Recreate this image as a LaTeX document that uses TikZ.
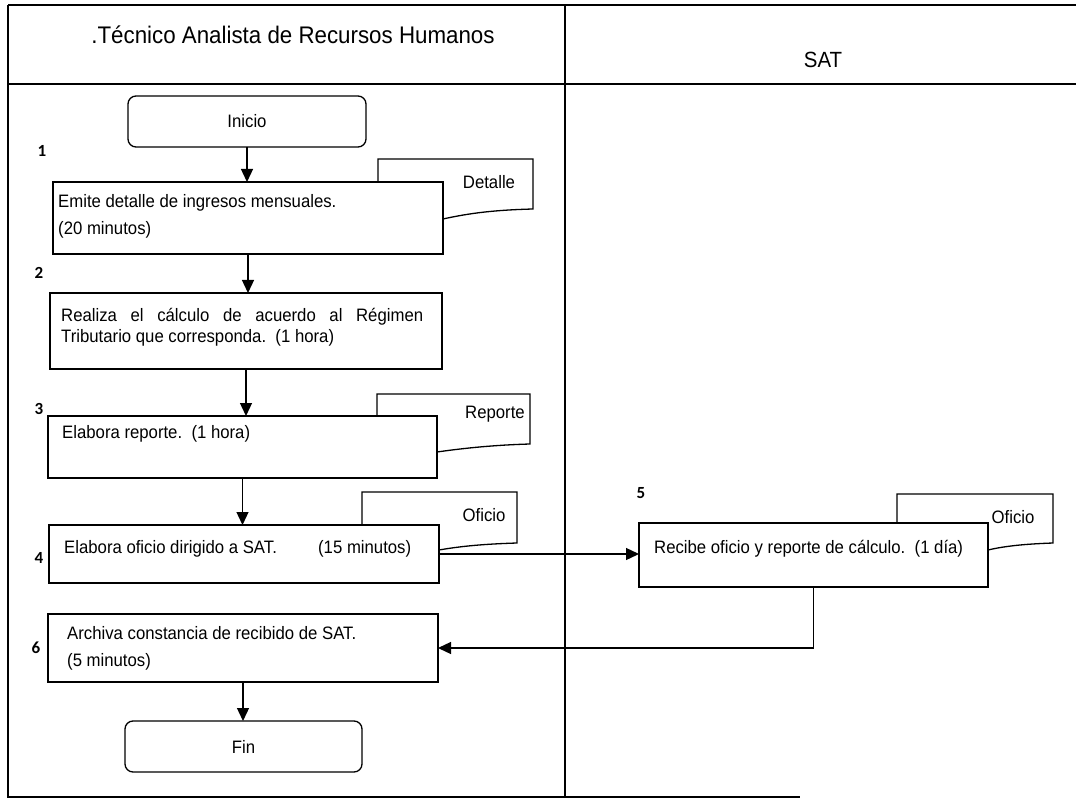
\documentclass[tikz,border=0pt]{standalone}
\usepackage{fontspec}
\setmainfont{Liberation Sans}[FakeStretch=0.93]
\newfontfamily\numfont{Carlito}
\usetikzlibrary{arrows.meta}
\begin{document}
\begin{tikzpicture}[x=1pt,y=-1pt,
  box/.style={draw, line width=1.3pt, fill=white, rectangle, inner sep=0pt, outer sep=0pt, anchor=north west},
  term/.style={box, rounded corners=8pt},
  txt/.style={anchor=west, inner sep=0pt, font=\fontsize{18}{21}\selectfont},
  doctxt/.style={inner sep=0pt, font=\fontsize{18}{21}\selectfont},
  num/.style={inner sep=0pt, font=\numfont\bfseries\fontsize{17}{20}\selectfont},
  arr/.style={line width=1.3pt, -{Triangle[length=13pt,width=12pt]}},
  frame/.style={line width=1.8pt},
  docsh/.style={draw, line width=1.3pt, fill=white}]
\useasboundingbox (0,0) rectangle (1076,802);
\fill[white] (0,0) rectangle (1076,802);
% frame
\draw[frame] (8,5) -- (1076,5);
\draw[frame] (8,84) -- (1076,84);
\draw[frame] (8,5) -- (8,797) -- (800,797);
\draw[frame] (565,5) -- (565,797);
\node[inner sep=0pt, font=\fontsize{24}{28}\selectfont] (h1) at (293,35) {.Técnico Analista de Recursos Humanos};
\node[inner sep=0pt, font=\fontsize{22}{26}\selectfont] (h2) at (823,60) {SAT};
% documents
\draw[docsh] (378,200) -- (378,159) -- (533,159) -- (533,209) .. controls (495,210) and (470,213) .. (443,219);
\node[doctxt] (d1) at (489,182) {Detalle};
\draw[docsh] (377,430) -- (377,394) -- (530,394) -- (530,444) .. controls (495,445) and (465,448) .. (437,452);
\node[doctxt] (d3) at (495,414) {Reporte};
\draw[docsh] (362,540) -- (362,492) -- (517,492) -- (517,543) .. controls (485,544) and (462,546) .. (439,550);
\node[doctxt] (d4) at (484,515) {Oficio};
\draw[docsh] (897,540) -- (897,494) -- (1053,494) -- (1053,543) .. controls (1025,544) and (1005,546) .. (988,550);
\node[doctxt] (d5) at (1013,517) {Oficio};
% boxes
\node[term, minimum width=238pt, minimum height=51pt] (ini) at (128,96) {};
\node[doctxt] (tini) at (ini.center) {Inicio};
\node[box, minimum width=390pt, minimum height=72pt] (b1) at (53,182) {};
\node[txt] (t1a) at (58,203) {Emite detalle de ingresos mensuales.};
\node[txt] (t1b) at (58,230) {(20 minutos)};
\node[box, minimum width=392pt, minimum height=76pt] (b2) at (50,293) {};
\node[txt] (t2a) at (61,317) {\makebox[362pt][s]{Realiza el cálculo de acuerdo al Régimen}};
\node[txt] (t2b) at (61,338) {Tributario que corresponda.\ \ (1 hora)};
\node[box, minimum width=389pt, minimum height=62pt] (b3) at (48,416) {};
\node[txt] (t3) at (62,434) {Elabora reporte.\ \ (1 hora)};
\node[box, minimum width=390pt, minimum height=58pt] (b4) at (49,525) {};
\node[txt] (t4) at (64,549) {\makebox[254pt][l]{Elabora oficio dirigido a SAT.}(15 minutos)};
\node[box, minimum width=349pt, minimum height=64pt] (b5) at (639,523) {};
\node[txt] (t5) at (654,549) {Recibe oficio y reporte de cálculo.\ \ (1 día)};
\node[box, minimum width=390pt, minimum height=68pt] (b6) at (48,614) {};
\node[txt] (t6a) at (67,633) {Archiva constancia de recibido de SAT.};
\node[txt] (t6b) at (67,662) {(5 minutos)};
\node[term, minimum width=237pt, minimum height=51pt] (fin) at (125,721) {};
\node[doctxt] (tfin) at (fin.center) {Fin};
% step numbers
\node[num] (n1) at (42,151) {1};
\node[num] (n2) at (39,273) {2};
\node[num] (n3) at (39,409) {3};
\node[num] (n4) at (39,558) {4};
\node[num] (n5) at (641,493) {5};
\node[num] (n6) at (36,648) {6};
% connectors
\draw[arr] (ini.south) -- (ini.south |- b1.north);
\draw[arr] (b1.south) -- (b1.south |- b2.north);
\draw[arr] (b2.south) -- (b2.south |- b3.north);
\draw[arr] (b3.south) -- (b3.south |- b4.north);
\draw[arr] (b4.east) -- (b4.east -| b5.west);
\draw[arr] (b5.south) |- (b6.east);
\draw[arr] (b6.south) -- (b6.south |- fin.north);
\end{tikzpicture}
\end{document}
